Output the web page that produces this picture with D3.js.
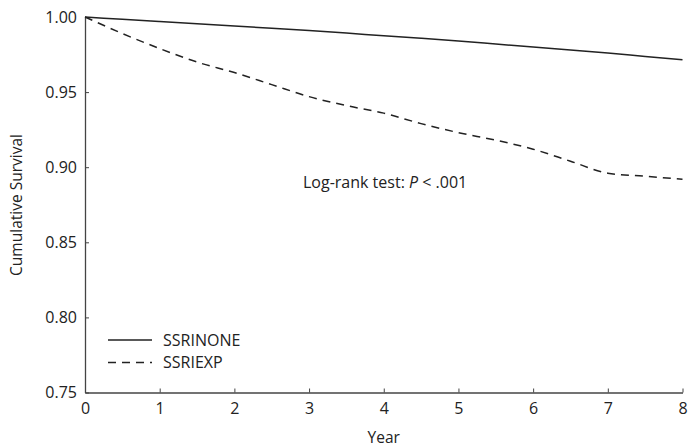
<!DOCTYPE html>
<html><head><meta charset="utf-8">
<script src="https://cdn.jsdelivr.net/npm/d3@7"></script>
<style>body{margin:0;background:#fff;} text{font-family:"Open Sans","Noto Sans",sans-serif;fill:#222;}</style>
</head><body>
<svg id="c" width="688" height="447"></svg>
<script>
const years = [0,0.5,1,1.5,2,2.5,3,3.5,4,4.5,5,5.5,6,6.5,7,7.5,8];
const ssriNone = [1.0,0.9985,0.997,0.9955,0.994,0.9925,0.991,0.9893,0.9875,0.9858,0.984,0.982,0.980,0.978,0.976,0.9737,0.9715];
const ssriExp  = [1.0,0.989,0.979,0.970,0.963,0.955,0.947,0.941,0.936,0.929,0.923,0.918,0.912,0.904,0.896,0.894,0.892];
const xTicks = [0,1,2,3,4,5,6,7,8];
const yTicks = [0.75,0.80,0.85,0.90,0.95,1.00];
const seriesNames = ["SSRINONE","SSRIEXP"];

const svg = d3.select("#c");
const x = d3.scaleLinear().domain([0,8]).range([85,682.5]);
const y = d3.scaleLinear().domain([0.75,1.0]).range([392.5,17]);
const axCol = "#444";

const gx = svg.append("g").attr("transform","translate(0,392.5)")
  .call(d3.axisBottom(x).tickValues(xTicks).tickSizeInner(-4).tickSizeOuter(0).tickPadding(10).tickFormat(d3.format("d")));
const gy = svg.append("g").attr("transform","translate(85,0)")
  .call(d3.axisLeft(y).tickValues(yTicks).tickSizeInner(-4).tickSizeOuter(0).tickPadding(8).tickFormat(d3.format(".2f")));
[gx,gy].forEach(g=>{
  g.select(".domain").attr("stroke",axCol).attr("stroke-width",1.3);
  g.selectAll(".tick line").attr("stroke",axCol).attr("stroke-width",1);
  g.selectAll("text").attr("font-size",16).attr("fill","#222").style("font-family","'Open Sans','Noto Sans',sans-serif");
});

const line = d3.line().x((d,i)=>x(years[i])).y(d=>y(d)).curve(d3.curveMonotoneX);
svg.append("path").datum(ssriNone).attr("d",line).attr("fill","none").attr("stroke","#222").attr("stroke-width",1.5);
svg.append("path").datum(ssriExp).attr("d",line).attr("fill","none").attr("stroke","#222").attr("stroke-width",1.5).attr("stroke-dasharray","8,6");

// legend
const leg = [{name:seriesNames[0],dash:null,y:340},{name:seriesNames[1],dash:"8,6",y:362.5}];
leg.forEach(l=>{
  svg.append("line").attr("x1",108).attr("x2",152).attr("y1",l.y).attr("y2",l.y)
    .attr("stroke","#222").attr("stroke-width",1.5).attr("stroke-dasharray",l.dash);
  svg.append("text").attr("x",163).attr("y",l.y).attr("dy","0.35em").attr("font-size",16).text(l.name);
});

// annotation
const ann = svg.append("text").attr("x",303).attr("y",188).attr("font-size",16);
ann.append("tspan").text("Log-rank test: ");
ann.append("tspan").attr("font-style","italic").text("P");
ann.append("tspan").text(" < .001");

// axis titles
svg.append("text").attr("x",x(4)).attr("y",443).attr("text-anchor","middle").attr("font-size",15.5).text("Year");
svg.append("text").attr("transform","translate(22,205) rotate(-90)").attr("text-anchor","middle").attr("font-size",15.5).text("Cumulative Survival");
</script>
</body></html>
